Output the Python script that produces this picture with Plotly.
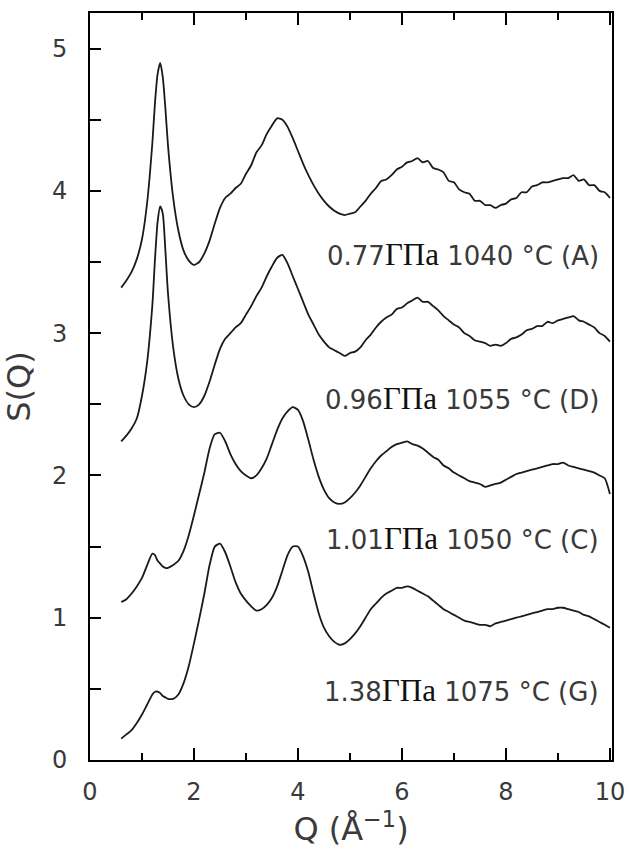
import plotly.graph_objects as go

Q = [0.6, 0.7, 0.8, 0.9, 1.0, 1.1, 1.2, 1.25, 1.3, 1.35, 1.4, 1.45,
     1.5, 1.6, 1.7, 1.8, 1.9, 2.0, 2.1, 2.2, 2.3, 2.4,
     2.5, 2.6, 2.7, 2.8, 2.9, 3.0, 3.1, 3.2, 3.3, 3.4,
     3.5, 3.6, 3.7, 3.8, 3.9, 4.0, 4.1, 4.2, 4.3, 4.4,
     4.5, 4.6, 4.7, 4.8, 4.9, 5.0, 5.1, 5.2, 5.3, 5.4,
     5.5, 5.6, 5.7, 5.8, 5.9, 6.0, 6.1, 6.2, 6.3, 6.4,
     6.5, 6.6, 6.7, 6.8, 6.9, 7.0, 7.1, 7.2, 7.3, 7.4,
     7.5, 7.6, 7.7, 7.8, 7.9, 8.0, 8.1, 8.2, 8.3, 8.4,
     8.5, 8.6, 8.7, 8.8, 8.9, 9.0, 9.1, 9.2, 9.3, 9.4,
     9.5, 9.6, 9.7, 9.8, 9.9, 10.0]

S_A = [3.32, 3.37, 3.43, 3.52, 3.66, 3.92, 4.34, 4.62, 4.82, 4.90, 4.80, 4.58,
       4.32, 3.95, 3.72, 3.58, 3.51, 3.48, 3.50, 3.56, 3.65, 3.77,
       3.88, 3.95, 3.98, 4.02, 4.05, 4.12, 4.18, 4.27, 4.32, 4.40,
       4.46, 4.51, 4.50, 4.45, 4.37, 4.28, 4.19, 4.11, 4.04, 3.98,
       3.93, 3.89, 3.86, 3.84, 3.83, 3.84, 3.85, 3.89, 3.93, 3.98,
       4.02, 4.07, 4.08, 4.11, 4.15, 4.17, 4.20, 4.21, 4.23, 4.20,
       4.21, 4.16, 4.15, 4.13, 4.07, 4.06, 4.01, 3.99, 3.98, 3.93,
       3.93, 3.90, 3.90, 3.88, 3.90, 3.91, 3.94, 3.95, 3.99, 3.99,
       4.03, 4.04, 4.06, 4.06, 4.07, 4.08, 4.09, 4.09, 4.11, 4.07,
       4.08, 4.04, 4.04, 4.00, 3.99, 3.95]

S_D = [2.24, 2.28, 2.33, 2.40, 2.56, 2.80, 3.20, 3.52, 3.78, 3.89, 3.84, 3.58,
       3.28, 2.90, 2.68, 2.56, 2.50, 2.48, 2.50, 2.56, 2.66, 2.78,
       2.89, 2.96, 3.00, 3.04, 3.07, 3.13, 3.19, 3.26, 3.32, 3.40,
       3.47, 3.53, 3.55, 3.49, 3.40, 3.31, 3.22, 3.13, 3.06, 2.99,
       2.94, 2.90, 2.88, 2.86, 2.84, 2.86, 2.87, 2.90, 2.95, 2.99,
       3.04, 3.08, 3.11, 3.13, 3.17, 3.18, 3.21, 3.23, 3.25, 3.22,
       3.22, 3.19, 3.16, 3.12, 3.09, 3.06, 3.04, 3.00, 2.98, 2.95,
       2.94, 2.93, 2.91, 2.92, 2.91, 2.93, 2.96, 2.97, 2.99, 3.02,
       3.03, 3.05, 3.05, 3.08, 3.07, 3.09, 3.10, 3.11, 3.12, 3.09,
       3.08, 3.06, 3.04, 3.00, 2.98, 2.94]

S_C = [1.11, 1.13, 1.17, 1.22, 1.28, 1.37, 1.45, 1.44, 1.40, 1.38, 1.36, 1.35,
       1.35, 1.37, 1.40, 1.47, 1.58, 1.72, 1.87, 2.02, 2.19, 2.29,
       2.30, 2.24, 2.15, 2.08, 2.03, 2.00, 1.98, 2.00, 2.05, 2.12,
       2.22, 2.32, 2.40, 2.45, 2.48, 2.46, 2.38, 2.25, 2.11, 1.99,
       1.90, 1.84, 1.81, 1.80, 1.81, 1.84, 1.88, 1.93, 1.99, 2.05,
       2.10, 2.14, 2.17, 2.20, 2.22, 2.23, 2.24, 2.22, 2.21, 2.19,
       2.16, 2.13, 2.11, 2.07, 2.05, 2.02, 2.00, 1.98, 1.96, 1.95,
       1.94, 1.92, 1.93, 1.94, 1.95, 1.97, 1.99, 2.01, 2.02, 2.03,
       2.04, 2.05, 2.06, 2.07, 2.08, 2.08, 2.09, 2.07, 2.06, 2.05,
       2.04, 2.03, 2.02, 2.00, 1.98, 1.87]

S_G = [0.15, 0.18, 0.21, 0.26, 0.32, 0.39, 0.46, 0.48, 0.48, 0.47, 0.45, 0.44,
       0.43, 0.43, 0.46, 0.54, 0.66, 0.82, 0.99, 1.17, 1.37, 1.50,
       1.52, 1.46, 1.36, 1.25, 1.17, 1.12, 1.08, 1.05, 1.06, 1.09,
       1.14, 1.22, 1.33, 1.44, 1.50, 1.50, 1.43, 1.32, 1.17, 1.03,
       0.93, 0.87, 0.83, 0.81, 0.82, 0.85, 0.89, 0.94, 1.00, 1.06,
       1.10, 1.14, 1.17, 1.19, 1.21, 1.21, 1.22, 1.21, 1.19, 1.17,
       1.15, 1.12, 1.09, 1.06, 1.04, 1.02, 1.00, 0.98, 0.97, 0.96,
       0.95, 0.95, 0.94, 0.96, 0.97, 0.98, 0.99, 1.00, 1.01, 1.02,
       1.03, 1.04, 1.05, 1.06, 1.06, 1.07, 1.07, 1.06, 1.05, 1.04,
       1.02, 1.01, 0.99, 0.97, 0.95, 0.93]

series = [S_A, S_D, S_C, S_G]
pressures = ["0.77", "0.96", "1.01", "1.38"]
temps = ["1040", "1055", "1050", "1075"]
codes = ["A", "D", "C", "G"]
label_y = [3.55, 2.54, 1.56, 0.49]
label_x = 9.82

SANS = "DejaVu Sans"
SERIF = "Liberation Serif"

fig = go.Figure()
for s in series:
    fig.add_trace(go.Scatter(x=Q, y=s, mode="lines",
                             line=dict(color="#1a1a1a", width=1.8, shape="spline", smoothing=0.6),
                             showlegend=False, hoverinfo="skip"))

for p, t, c, ly in zip(pressures, temps, codes, label_y):
    fig.add_annotation(
        x=label_x, y=ly, xref="x", yref="y",
        text=f'{p}<span style="font-family:{SERIF};font-size:31px;color:#111111">ГПа</span> {t} °C ({c})',
        showarrow=False, xanchor="right", yanchor="middle",
        font=dict(family=SANS, size=26, color="#3a3a3a"))

axis_common = dict(showline=True, linecolor="black", linewidth=2,
                   showgrid=False, zeroline=False, automargin=False,
                   tickcolor="black", tickwidth=2, ticks="inside",
                   tickfont=dict(family=SANS, size=24, color="#3a3a3a"))

fig.update_xaxes(range=[0, 10.04], tickvals=[0, 2, 4, 6, 8, 10], ticklen=12,
                 mirror="ticks",
                 minor=dict(dtick=1, tick0=0, ticklen=7, tickwidth=2, tickcolor="black", ticks="inside"),
                 ticklabelstandoff=9,
                 title=dict(text="Q (Å<sup>−1</sup>)", standoff=6,
                            font=dict(family=SANS, size=32, color="#3a3a3a")),
                 **axis_common)
fig.update_yaxes(range=[0, 5.25], tickvals=[0, 1, 2, 3, 4, 5], ticklen=11,
                 mirror=True,
                 minor=dict(dtick=0.5, tick0=0, ticklen=11, tickwidth=2, tickcolor="black", ticks="inside"),
                 ticklabelstandoff=16,
                 title=dict(text="S(Q)", standoff=14,
                            font=dict(family=SANS, size=32, color="#3a3a3a")),
                 **axis_common)

fig.update_layout(width=629, height=855,
                  margin=dict(l=90, r=17, t=13, b=95, autoexpand=False),
                  paper_bgcolor="white", plot_bgcolor="white")

fig.write_html("out.html")
